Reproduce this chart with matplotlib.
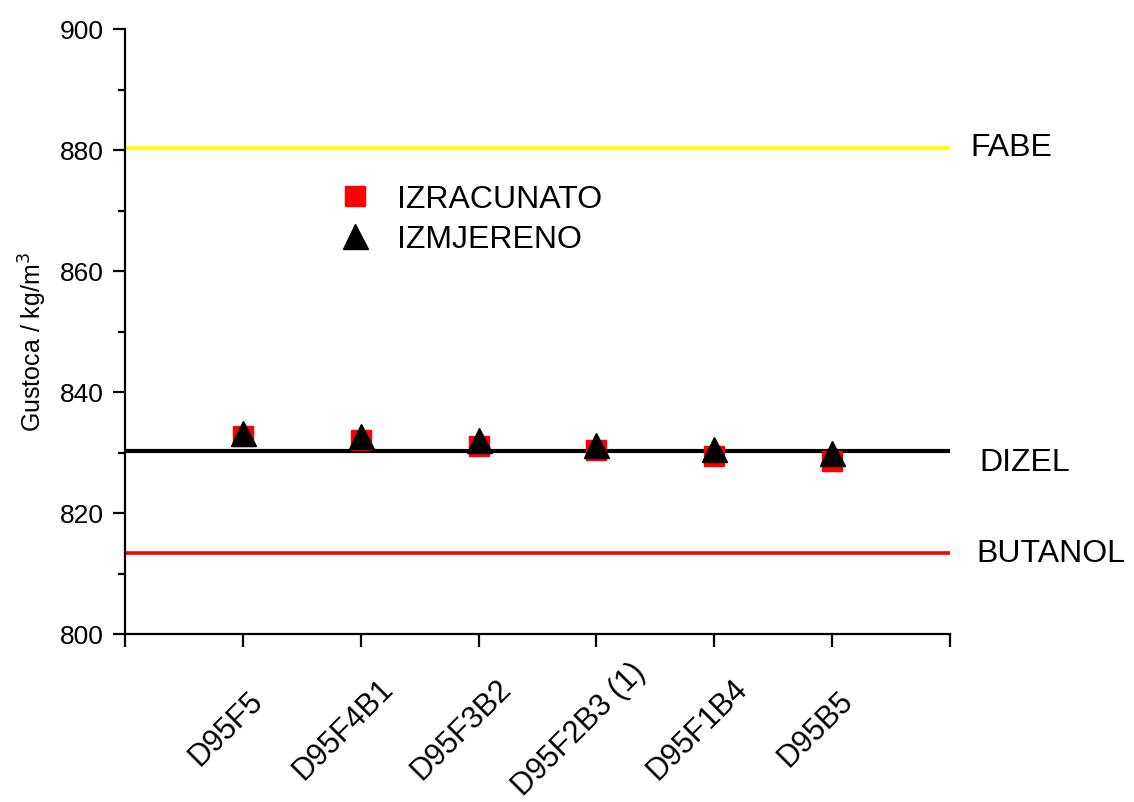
import matplotlib
matplotlib.use("Agg")
import matplotlib.pyplot as plt
from matplotlib.ticker import MultipleLocator, FixedLocator, NullFormatter

plt.rcParams['font.family'] = ['Liberation Sans', 'DejaVu Sans']

categories = ["D95F5", "D95F4B1", "D95F3B2", "D95F2B3 (1)", "D95F1B4", "D95B5"]
izracunato = [832.7, 832.0, 831.0, 830.4, 829.4, 828.6]
izmjereno = [833.3, 832.7, 832.0, 831.3, 830.6, 830.0]
ref_names = ["FABE", "DIZEL", "BUTANOL"]
ref_values = [880.3, 830.3, 813.4]
ref_colors = ["#FFFF00", "#000000", "#FF0000"]

# label placement (points) for the right-hand names
ref_label_dx = [15, 21, 19]
ref_label_dy = [1, -8, 0]

fig = plt.figure(figsize=(11.34, 8.03), dpi=100)
ax = fig.add_axes([125/1134, 1 - 635/803, 825/1134, 605/803])

x = list(range(1, len(categories) + 1))
for name, val, col, dx, dy in zip(ref_names, ref_values, ref_colors, ref_label_dx, ref_label_dy):
    ax.axhline(val, color=col, lw=3.0 if col == "#000000" else 2.6, zorder=1)
    ax.annotate(name, xy=(1, val), xycoords=('axes fraction', 'data'),
                xytext=(dx, dy), textcoords='offset points', va='center', ha='left',
                fontsize=23, annotation_clip=False)

ax.plot(x, izracunato, 's', color='#FF0000', markersize=14, label='IZRACUNATO', zorder=3)
ax.plot(x, izmjereno, '^', color='#000000', markersize=18, label='IZMJERENO', zorder=4)

ax.set_xlim(0, len(categories) + 1)
ax.set_ylim(800, 900)
ax.xaxis.set_major_locator(FixedLocator(range(0, len(categories) + 2)))
ax.xaxis.set_major_formatter(NullFormatter())
for xi, cat in zip(x, categories):
    ax.annotate(cat, xy=(xi, 0), xycoords=('data', 'axes fraction'),
                xytext=(-12.2, -68), textcoords='offset points', rotation=45,
                rotation_mode='anchor', ha='center', va='center', fontsize=22,
                annotation_clip=False)

ax.yaxis.set_major_locator(MultipleLocator(20))
ax.yaxis.set_minor_locator(MultipleLocator(10))
ax.tick_params(axis='y', which='major', direction='out', length=9, width=1.6, labelsize=19, pad=6)
ax.tick_params(axis='y', which='minor', direction='out', length=5, width=1.6)
ax.tick_params(axis='x', which='major', direction='out', length=9, width=1.6)
for s in ['top', 'right']:
    ax.spines[s].set_visible(False)
for s in ['left', 'bottom']:
    ax.spines[s].set_linewidth(1.6)

ax.set_ylabel("Gustoca / kg/m$^3$", fontsize=18)
ax.yaxis.set_label_coords(-0.092, 0.484)

ax.legend(loc='center left', bbox_to_anchor=(0.259, 0.686), frameon=False, fontsize=23,
          borderpad=0, borderaxespad=0, handletextpad=0.84, labelspacing=0.3,
          handlelength=1.0)

fig.savefig("out.png", dpi=100)
